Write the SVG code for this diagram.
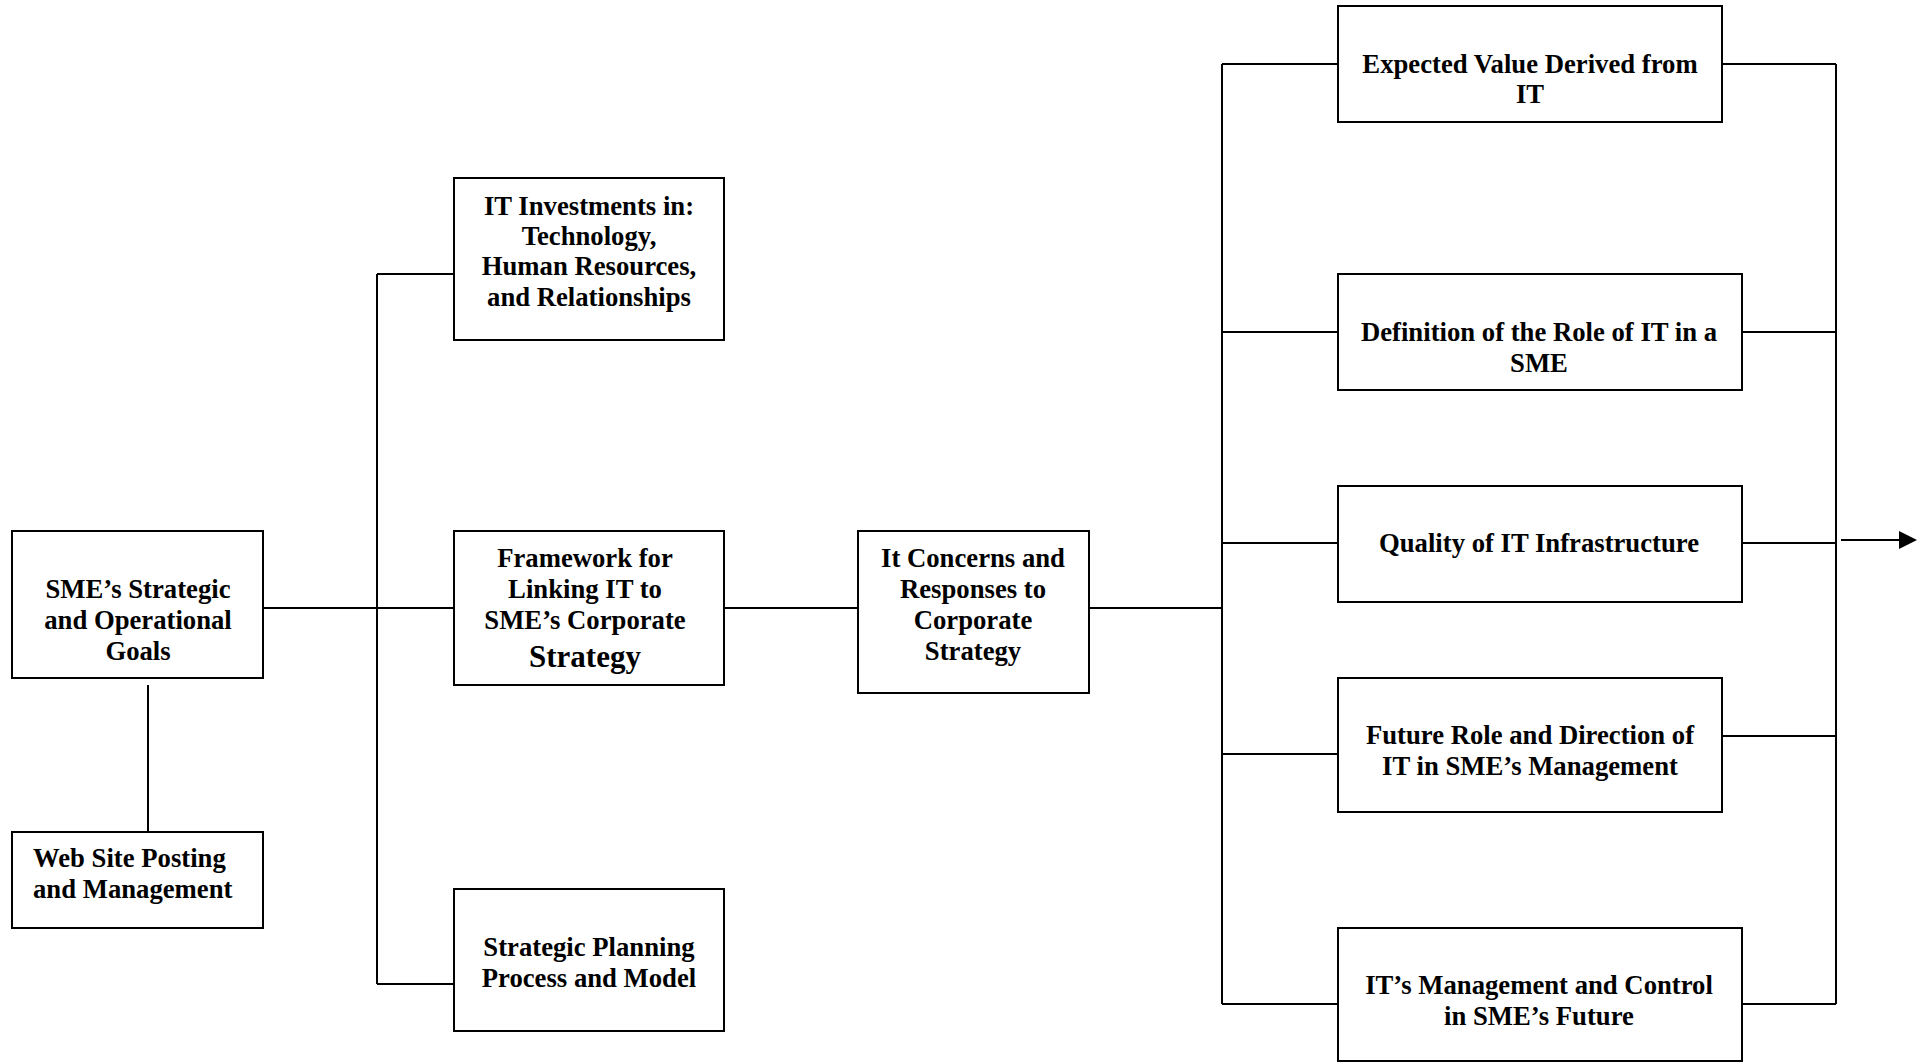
<svg xmlns="http://www.w3.org/2000/svg" width="1930" height="1063" viewBox="0 0 1930 1063">
<style>
.box{fill:#fff;stroke:#000;stroke-width:2}
.ln{fill:none;stroke:#000;stroke-width:2}
text{font-family:"Liberation Serif","Times New Roman",serif;font-weight:bold;font-size:26.7px;fill:#000;text-anchor:middle}
.l{text-anchor:start}
.big{font-size:31px}
</style>
<rect width="1930" height="1063" fill="#fff"/>
<g id="connectors">
<path class="ln" d="M263,608 H454"/>
<path class="ln" d="M148,685 V839"/>
<path class="ln" d="M377,274 V984"/>
<path class="ln" d="M377,274 H454"/>
<path class="ln" d="M377,984 H454"/>
<path class="ln" d="M724,608 H858"/>
<path class="ln" d="M1089,608 H1222"/>
<path class="ln" d="M1222,64 V1004"/>
<path class="ln" d="M1222,64 H1338 M1222,332 H1338 M1222,543 H1338 M1222,754 H1338 M1222,1004 H1338"/>
<path class="ln" d="M1836,64 V1004"/>
<path class="ln" d="M1722,64 H1836 M1742,332 H1836 M1742,543 H1836 M1722,736 H1836 M1742,1004 H1836"/>
<line x1="1841" y1="540" x2="1899" y2="540" stroke="#000" stroke-width="2"/>
<path d="M1899,531 L1917,540 L1899,549 Z" fill="#000"/>
</g>
<g id="sme-goals">
<rect class="box" x="12" y="531" width="251" height="147"/>
<text x="138" y="598">SME’s Strategic</text>
<text x="138" y="629">and Operational</text>
<text x="138" y="660">Goals</text>
</g>
<g id="web-site">
<rect class="box" x="12" y="832" width="251" height="96"/>
<text class="l" x="33" y="867">Web Site Posting</text>
<text class="l" x="33" y="898">and Management</text>
</g>
<g id="it-investments">
<rect class="box" x="454" y="178" width="270" height="162"/>
<text x="589" y="215">IT Investments in:</text>
<text x="589" y="245">Technology,</text>
<text x="589" y="275">Human Resources,</text>
<text x="589" y="306">and Relationships</text>
</g>
<g id="framework">
<rect class="box" x="454" y="531" width="270" height="154"/>
<text x="585" y="567">Framework for</text>
<text x="585" y="598">Linking IT to</text>
<text x="585" y="629">SME’s Corporate</text>
<text class="big" x="585" y="667">Strategy</text>
</g>
<g id="strategic-planning">
<rect class="box" x="454" y="889" width="270" height="142"/>
<text x="589" y="956">Strategic Planning</text>
<text x="589" y="987">Process and Model</text>
</g>
<g id="it-concerns">
<rect class="box" x="858" y="531" width="231" height="162"/>
<text x="973" y="567">It Concerns and</text>
<text x="973" y="598">Responses to</text>
<text x="973" y="629">Corporate</text>
<text x="973" y="660">Strategy</text>
</g>
<g id="expected-value">
<rect class="box" x="1338" y="6" width="384" height="116"/>
<text x="1530" y="73">Expected Value Derived from</text>
<text x="1530" y="103">IT</text>
</g>
<g id="definition-role">
<rect class="box" x="1338" y="274" width="404" height="116"/>
<text x="1539" y="341">Definition of the Role of IT in a</text>
<text x="1539" y="372">SME</text>
</g>
<g id="quality">
<rect class="box" x="1338" y="486" width="404" height="116"/>
<text x="1539" y="552">Quality of IT Infrastructure</text>
</g>
<g id="future-role">
<rect class="box" x="1338" y="678" width="384" height="134"/>
<text x="1530" y="744">Future Role and Direction of</text>
<text x="1530" y="775">IT in SME’s Management</text>
</g>
<g id="it-management">
<rect class="box" x="1338" y="928" width="404" height="133"/>
<text x="1539" y="994">IT’s Management and Control</text>
<text x="1539" y="1025">in SME’s Future</text>
</g>
</svg>
